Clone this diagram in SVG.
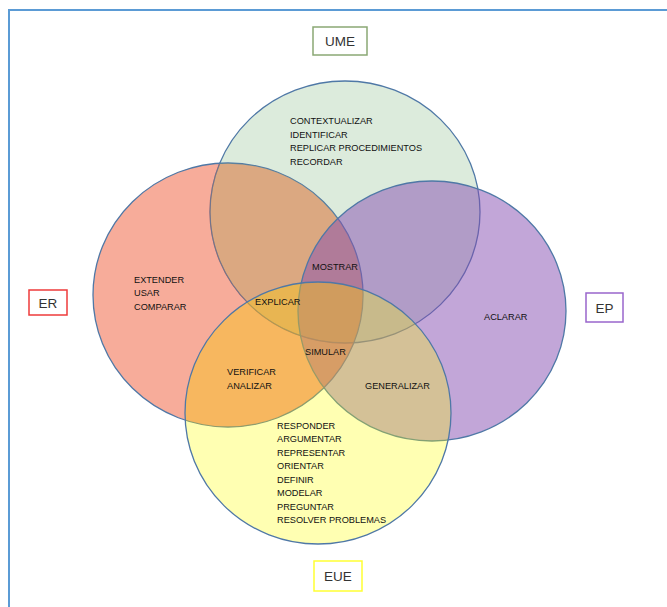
<svg xmlns="http://www.w3.org/2000/svg" width="667" height="607" viewBox="0 0 667 607">
<style>
.c{stroke:#4f78a6;stroke-width:1.3;fill-opacity:0.5}
.t{font-family:"Liberation Sans",Arial,sans-serif;font-size:9.2px;fill:#111}
.lb{font-family:"Liberation Sans",Arial,sans-serif;font-size:13.5px;fill:#333;text-anchor:middle}
.box{fill:#fff;stroke-width:1.5}
</style>
<defs>
<clipPath id="clipER"><ellipse cx="228" cy="295" rx="135" ry="132"/></clipPath>
</defs>
<rect width="667" height="607" fill="#fff"/>
<path d="M9,607 V10 H667" fill="none" stroke="#5b9bd5" stroke-width="2"/>
<g id="circle-ume"><ellipse class="c" cx="345" cy="212" rx="135" ry="131" fill="#b9d7b9"/></g>
<g id="circle-er">
<ellipse class="c" cx="228" cy="295" rx="135" ry="132" fill="#f05a36"/>
<ellipse cx="345" cy="212" rx="135" ry="131" fill="#b4be64" fill-opacity="0.22" clip-path="url(#clipER)"/>
<ellipse cx="345" cy="212" rx="135" ry="131" fill="none" stroke="#4f78a6" stroke-width="1" stroke-opacity="0.6" clip-path="url(#clipER)"/>
</g>
<g id="circle-ep"><ellipse class="c" cx="432" cy="311" rx="134" ry="130" fill="#854db1"/></g>
<g id="circle-eue">
<ellipse cx="318" cy="413" rx="133" ry="131" fill="#ffff00" fill-opacity="0.3"/>
<ellipse cx="318" cy="413" rx="133" ry="131" fill="#f08030" fill-opacity="0.2" clip-path="url(#clipER)"/>
<ellipse cx="318" cy="413" rx="133" ry="131" fill="none" stroke="#4f78a6" stroke-width="1.3"/>
</g>
<g id="texts-ume" class="t">
<text x="290" y="124">CONTEXTUALIZAR</text>
<text x="290" y="137.5">IDENTIFICAR</text>
<text x="290" y="151">REPLICAR PROCEDIMIENTOS</text>
<text x="290" y="164.5">RECORDAR</text>
</g>
<g id="texts-er" class="t">
<text x="134" y="282.5">EXTENDER</text>
<text x="134" y="296">USAR</text>
<text x="134" y="309.5">COMPARAR</text>
</g>
<g id="texts-overlaps" class="t">
<text x="312" y="270">MOSTRAR</text>
<text x="255" y="304.5">EXPLICAR</text>
<text x="305" y="354.5">SIMULAR</text>
<text x="227" y="375">VERIFICAR</text>
<text x="227" y="388.5">ANALIZAR</text>
<text x="365" y="389">GENERALIZAR</text>
</g>
<g id="texts-ep" class="t"><text x="484" y="319.5">ACLARAR</text></g>
<g id="texts-eue" class="t">
<text x="277" y="428.5">RESPONDER</text>
<text x="277" y="442">ARGUMENTAR</text>
<text x="277" y="455.5">REPRESENTAR</text>
<text x="277" y="469">ORIENTAR</text>
<text x="277" y="482.5">DEFINIR</text>
<text x="277" y="496">MODELAR</text>
<text x="277" y="509.5">PREGUNTAR</text>
<text x="277" y="523">RESOLVER PROBLEMAS</text>
</g>
<g id="label-ume"><rect class="box" x="313" y="27" width="54" height="28" stroke="#8aa874"/><text class="lb" x="340" y="46">UME</text></g>
<g id="label-er"><rect class="box" x="29" y="290" width="38" height="25" stroke="#ee3b3b"/><text class="lb" x="48" y="307.5">ER</text></g>
<g id="label-ep"><rect class="box" x="586" y="293" width="37" height="29" stroke="#9966cc"/><text class="lb" x="604.5" y="312.5">EP</text></g>
<g id="label-eue"><rect class="box" x="314" y="561" width="48" height="30" stroke="#ffff33"/><text class="lb" x="338" y="581">EUE</text></g>
</svg>
